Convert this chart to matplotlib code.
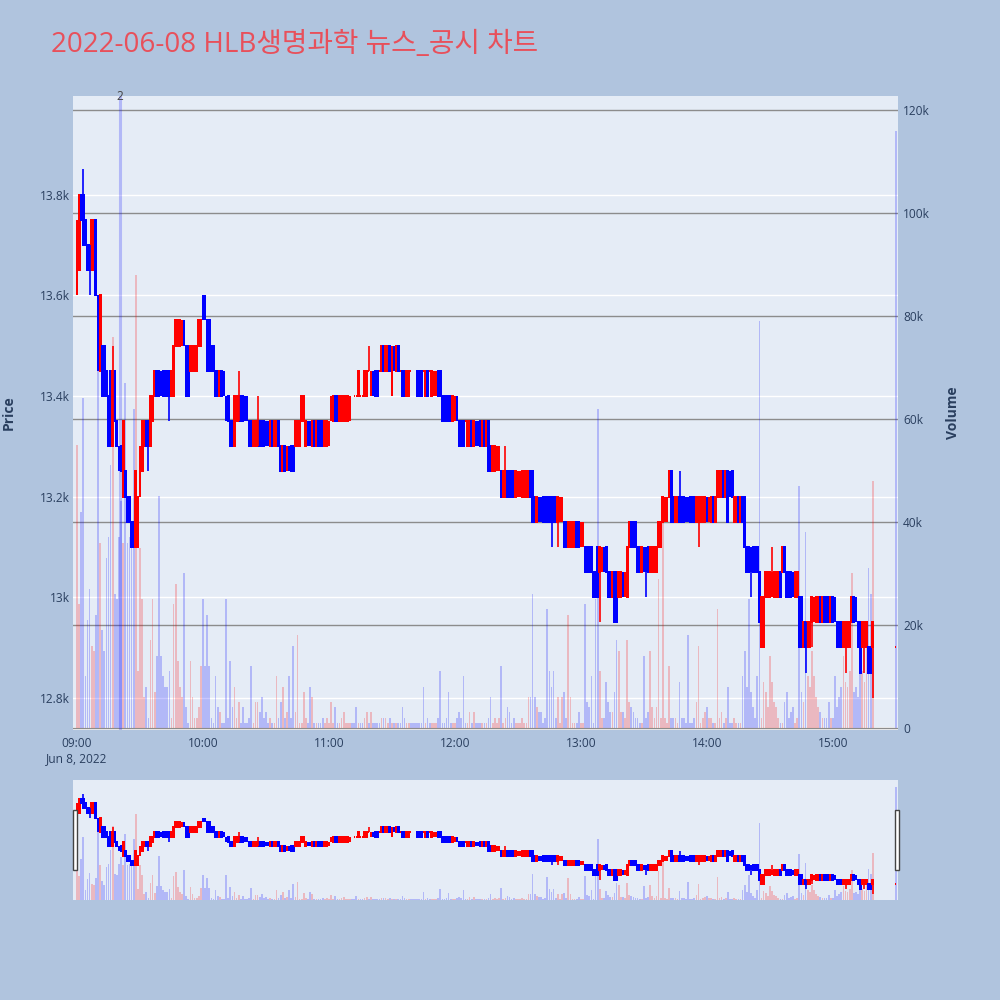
import matplotlib
matplotlib.use("Agg")
import matplotlib.pyplot as plt
from matplotlib.patches import Rectangle

plt.rcParams['font.family'] = ['Open Sans', 'Noto Sans CJK KR', 'DejaVu Sans']

title = "2022-06-08 HLB생명과학 뉴스_공시 차트"

# minute index since 09:00 (last one = 15:30 closing auction)
minutes = list(range(380)) + [390]

opens = [
    13600, 13650, 13800, 13800, 13750, 13700, 13700, 13650, 13650, 13750,
    13600, 13450, 13500, 13500, 13450, 13400, 13450, 13300, 13450, 13350,
    13300, 13300, 13200, 13250, 13200, 13200, 13150, 13150, 13100, 13100,
    13200, 13250, 13300, 13350, 13350, 13300, 13350, 13400, 13450, 13450,
    13450, 13450, 13450, 13450, 13450, 13400, 13400, 13500, 13500, 13500,
    13500, 13550, 13500, 13500, 13450, 13450, 13450, 13450, 13500, 13500,
    13600, 13600, 13550, 13550,
    13500, 13500, 13450, 13450, 13400, 13450, 13450, 13400, 13400, 13350,
    13350, 13300, 13350, 13350, 13400, 13400, 13400, 13400, 13350, 13350,
    13300, 13300, 13300, 13350, 13350, 13350, 13350, 13350, 13300, 13350,
    13300, 13300, 13350, 13300, 13250, 13300, 13250, 13300, 13300, 13300,
    13300, 13300, 13300, 13350, 13350, 13300, 13350, 13350, 13300, 13350,
    13300, 13350, 13350, 13350, 13300, 13300, 13300, 13350, 13350, 13400,
    13400, 13350, 13350, 13350, 13350, 13350,
    13350, 13400, 13400, 13400, 13400, 13400, 13400, 13400, 13400, 13450,
    13400, 13450, 13450, 13450, 13450, 13450, 13500, 13450, 13450, 13500,
    13400, 13500, 13450, 13500, 13450, 13450, 13450, 13400, 13400, 13450,
    13450, 13450, 13450, 13450, 13450, 13450, 13400, 13450, 13450, 13400,
    13400, 13400, 13450, 13450, 13400, 13400, 13400, 13400, 13400, 13350,
    13350, 13400, 13350, 13350, 13350, 13350, 13300, 13300, 13350, 13300,
    13350, 13350, 13350, 13300, 13350,
    13300, 13350, 13300, 13250, 13250, 13250, 13250, 13250, 13200, 13200,
    13250, 13250, 13250, 13250, 13200, 13200, 13200, 13200, 13200, 13200,
    13200, 13250, 13250, 13200, 13150, 13200, 13200, 13200, 13200, 13200,
    13200, 13200, 13200, 13200, 13150, 13150, 13150, 13150, 13150, 13100,
    13100, 13100, 13100, 13150, 13150, 13100, 13100, 13100, 13100, 13100,
    13100, 13050, 13050, 13100, 13050, 13050, 13100, 13100, 13050, 13050,
    13000, 13050, 13050, 13000, 13000, 13050, 13000,
    13000, 13100, 13150, 13150, 13150, 13100, 13100, 13050, 13100, 13100,
    13100, 13050, 13050, 13050, 13050, 13100, 13100, 13150, 13150, 13150,
    13200, 13250, 13200, 13150, 13150, 13200, 13200, 13200, 13200, 13200,
    13200, 13200, 13200, 13150, 13150, 13150, 13150, 13150, 13200, 13150,
    13150, 13200, 13150, 13200, 13200, 13200, 13250, 13200, 13250, 13250,
    13250, 13150, 13150, 13200, 13150, 13200, 13200, 13100, 13100, 13100,
    13100, 13100, 13100, 13050, 12900,
    12900, 13000, 13000, 13000, 13000, 13000, 13000, 13000, 13050, 13050,
    13100, 13050, 13050, 13050, 13050, 13000, 13000, 13000, 13000, 12900,
    12950, 12900, 12900, 12950, 12950, 12950, 12950, 13000, 12950, 13000,
    13000, 13000, 12950, 13000, 13000, 12950, 12950, 12950, 12900, 12900,
    12900, 12900, 12950, 13000, 13000, 12950, 12950, 12900, 12900, 12900,
    12900, 12900, 12900,
    12900,
]

closes = [
    13750, 13800, 13750, 13700, 13700, 13650, 13650, 13750, 13750, 13600,
    13450, 13600, 13400, 13400, 13400, 13300, 13300, 13450, 13350, 13300,
    13250, 13250, 13350, 13200, 13150, 13150, 13100, 13100, 13250, 13200,
    13300, 13350, 13350, 13300, 13300, 13400, 13400, 13450, 13400, 13400,
    13400, 13400, 13400, 13400, 13400, 13450, 13500, 13550, 13550, 13550,
    13550, 13500, 13400, 13400, 13500, 13500, 13500, 13500, 13550, 13550,
    13550, 13550, 13450, 13450,
    13450, 13450, 13400, 13400, 13450, 13400, 13400, 13350, 13350, 13300,
    13300, 13400, 13400, 13400, 13350, 13350, 13350, 13350, 13300, 13300,
    13350, 13350, 13350, 13300, 13300, 13300, 13300, 13300, 13350, 13300,
    13350, 13350, 13300, 13250, 13300, 13250, 13300, 13250, 13250, 13250,
    13350, 13350, 13350, 13400, 13400, 13350, 13300, 13300, 13350, 13300,
    13350, 13300, 13300, 13300, 13350, 13350, 13350, 13400, 13400, 13350,
    13350, 13400, 13400, 13400, 13400, 13400,
    13400, 13400, 13400, 13400, 13450, 13400, 13400, 13450, 13450, 13450,
    13450, 13400, 13400, 13400, 13450, 13500, 13450, 13500, 13500, 13450,
    13500, 13450, 13500, 13450, 13450, 13400, 13400, 13450, 13450, 13450,
    13450, 13450, 13400, 13400, 13400, 13450, 13450, 13400, 13450, 13450,
    13450, 13450, 13400, 13400, 13350, 13350, 13350, 13350, 13350, 13400,
    13400, 13350, 13300, 13300, 13300, 13350, 13350, 13350, 13300, 13350,
    13300, 13300, 13300, 13350, 13300,
    13350, 13250, 13250, 13300, 13300, 13300, 13300, 13200, 13250, 13250,
    13200, 13200, 13200, 13200, 13250, 13250, 13250, 13250, 13250, 13250,
    13250, 13200, 13150, 13150, 13200, 13150, 13150, 13150, 13150, 13150,
    13150, 13150, 13150, 13150, 13200, 13200, 13200, 13100, 13100, 13150,
    13150, 13150, 13150, 13100, 13100, 13150, 13150, 13050, 13050, 13050,
    13050, 13000, 13000, 13000, 13100, 13100, 13050, 13050, 13000, 13000,
    13050, 12950, 12950, 13050, 13050, 13000, 13050,
    13100, 13150, 13100, 13100, 13100, 13050, 13050, 13100, 13050, 13050,
    13050, 13100, 13100, 13100, 13100, 13150, 13150, 13200, 13200, 13200,
    13250, 13150, 13150, 13200, 13200, 13150, 13150, 13150, 13150, 13150,
    13150, 13150, 13150, 13200, 13200, 13200, 13200, 13200, 13150, 13200,
    13200, 13150, 13200, 13250, 13250, 13250, 13200, 13250, 13150, 13200,
    13200, 13200, 13200, 13150, 13200, 13150, 13100, 13050, 13050, 13050,
    13050, 13050, 13050, 12950, 13000,
    13000, 13050, 13050, 13050, 13050, 13050, 13050, 13050, 13000, 13100,
    13050, 13000, 13000, 13000, 13000, 13050, 13050, 12900, 12900, 12950,
    12900, 12950, 12950, 13000, 13000, 13000, 13000, 12950, 13000, 12950,
    12950, 12950, 13000, 12950, 12950, 12900, 12900, 12900, 12950, 12950,
    12950, 12950, 13000, 12950, 12950, 12900, 12850, 12950, 12950, 12950,
    12850, 12850, 12950,
    12900,
]

# wicks that reach beyond the candle body (minute -> price)
wick_highs = {3: 13850, 17: 13500, 77: 13450, 86: 13400, 139: 13500, 204: 13300,
              287: 13250, 331: 13100}
wick_lows = {6: 13600, 34: 13250, 44: 13350, 226: 13100, 229: 13100, 249: 12950,
             271: 13000, 296: 13100, 321: 13000, 347: 12850, 350: 12900, 366: 12850,
             375: 12850, 379: 12800}

# volume in thousands of shares
volumes_k = [
    55, 24, 42, 64, 10, 21, 27, 16, 15, 22, 72, 36, 19, 15, 33, 37, 51, 76, 26, 25,
    37, 44, 36, 67, 36, 37, 36, 62, 88, 11, 35, 25, 6, 8, 2, 17, 25, 7, 14, 45,
    14, 10, 8, 8, 11, 2, 24, 28, 13, 8, 6, 30, 4, 1, 13, 6, 2, 2, 4, 12,
    25, 12, 22, 12,
    2, 1, 10, 4, 3, 1, 1, 25, 2, 13, 4, 8, 2, 5, 1, 4, 1, 1, 2, 12,
    1, 5, 5, 3, 6, 2, 3, 1, 2, 1, 1, 10, 2, 5, 8, 2, 3, 10, 2, 16,
    3, 18, 1, 1, 7, 2, 1, 8, 6, 1, 1, 1, 1, 2, 1, 2, 1, 5, 1, 4,
    1, 1, 2, 3, 1, 1,
    1, 1, 1, 4, 1, 1, 1, 2, 3, 1, 3, 1, 1, 1, 1, 2, 2, 2, 1, 2,
    1, 1, 1, 1, 1, 4, 2, 1, 1, 1, 1, 1, 1, 1, 1, 8, 1, 2, 1, 1,
    1, 1, 2, 11, 1, 1, 2, 7, 1, 1, 1, 2, 3, 2, 10, 1, 1, 3, 1, 3,
    1, 1, 1, 1, 1,
    1, 2, 6, 1, 2, 1, 2, 12, 1, 2, 4, 3, 1, 2, 1, 1, 1, 2, 1, 1,
    6, 6, 26, 6, 4, 3, 3, 1, 2, 23, 11, 8, 11, 2, 6, 1, 6, 7, 2, 22,
    6, 1, 1, 1, 3, 1, 1, 24, 5, 4, 10, 1, 25, 62, 11, 2, 2, 9, 5, 3,
    3, 7, 17, 15, 3, 3, 2,
    17, 5, 4, 3, 2, 2, 1, 1, 14, 2, 3, 15, 4, 2, 4, 29, 2, 41, 2, 1,
    12, 2, 2, 2, 1, 9, 2, 2, 1, 18, 1, 1, 2, 5, 16, 1, 2, 3, 4, 2,
    2, 1, 1, 23, 2, 3, 1, 2, 8, 1, 1, 2, 1, 1, 1, 10, 15, 8, 25, 7,
    4, 2, 10, 79, 2,
    9, 7, 4, 14, 9, 5, 4, 2, 1, 1, 5, 7, 2, 3, 4, 1, 2, 47, 7, 5,
    38, 10, 8, 15, 10, 6, 4, 3, 2, 2, 2, 5, 2, 2, 10, 4, 6, 8, 14, 9,
    8, 11, 30, 7, 8, 6, 13, 11, 9, 17, 31, 26, 48,
    116,
]

news_minutes = [20.5]
news_labels = ["2"]

price_ticks = [12800, 13000, 13200, 13400, 13600, 13800]
price_tick_labels = ["12.8k", "13k", "13.2k", "13.4k", "13.6k", "13.8k"]
volume_ticks = [0, 20000, 40000, 60000, 80000, 100000, 120000]
volume_tick_labels = ["0", "20k", "40k", "60k", "80k", "100k", "120k"]
time_ticks = [0, 60, 120, 180, 240, 300, 360]
time_labels = ["09:00\nJun 8, 2022", "10:00", "11:00", "12:00", "13:00", "14:00", "15:00"]

highs = [max(o, c, wick_highs.get(m, o)) for m, o, c in zip(minutes, opens, closes)]
lows = [min(o, c, wick_lows.get(m, o)) for m, o, c in zip(minutes, opens, closes)]
volumes = [v * 1000 for v in volumes_k]

UP = "#ff0000"
DOWN = "#0000ff"
TXT = "#2a3f5f"
PLOT_BG = "#E5ECF6"

XLIM = (-1.9, 391.0)
PRICE_LIM = (12736, 13996)
VOL_LIM = (-400, 122700)

fig = plt.figure(figsize=(10, 10), dpi=100)
fig.patch.set_facecolor("#B0C4DE")


def panel(rect, main):
    axp = fig.add_axes(rect)
    axp.set_facecolor(PLOT_BG)
    axp.set_xlim(*XLIM)
    axp.set_ylim(*PRICE_LIM)
    for s in axp.spines.values():
        s.set_visible(False)
    axv = axp.twinx()
    axv.set_ylim(*VOL_LIM)
    for s in axv.spines.values():
        s.set_visible(False)
    axc = fig.add_axes(rect)
    axc.set_xlim(*XLIM)
    axc.set_ylim(*PRICE_LIM)
    axc.set_axis_off()
    axc.patch.set_visible(False)

    if main:
        axp.set_yticks(price_ticks)
        axp.set_yticklabels(price_tick_labels)
        axp.yaxis.grid(True, color="white", lw=1)
        axp.set_axisbelow(True)
        axp.tick_params(axis="y", length=0, pad=2.2, labelsize=8.6, labelcolor=TXT)
        axp.set_xticks(time_ticks)
        axp.set_xticklabels(time_labels)
        axp.tick_params(axis="x", length=0, pad=5, labelsize=8.6, labelcolor=TXT)
        axv.set_yticks(volume_ticks)
        axv.set_yticklabels(volume_tick_labels)
        axv.yaxis.grid(True, color="#8c8c8c", lw=1)
        axv.set_axisbelow(True)
        axv.tick_params(axis="y", length=0, pad=3.6, labelsize=8.6, labelcolor=TXT)
        axv.axhline(0, color="white", lw=2, zorder=0.5)
        for nm in news_minutes:
            axv.axvline(nm, color=DOWN, alpha=0.22, lw=2.2, zorder=1)
    else:
        axp.set_xticks([])
        axp.set_yticks([])
        axv.set_yticks([])

    vcols = [UP if c > o else DOWN for o, c in zip(opens, closes)]
    axv.bar(minutes, volumes, width=0.8, color=vcols, alpha=0.22, linewidth=0, zorder=2)

    for m, o, c, h, l in zip(minutes, opens, closes, highs, lows):
        col = UP if c >= o else DOWN
        if h > max(o, c) or l < min(o, c):
            axc.vlines(m, l, h, color=col, lw=1.2)
        axc.add_patch(Rectangle((m - 0.2, min(o, c)), 0.4, abs(c - o),
                                facecolor=col, edgecolor=col, lw=1.44))
    return axp, axv, axc


W, H = 1000.0, 1000.0
main_rect = [73 / W, 1 - 730 / H, 825 / W, 634 / H]
slider_rect = [73 / W, 1 - 900 / H, 825 / W, 120 / H]

axp, axv, axc = panel(main_rect, True)
sp, sv, sc = panel(slider_rect, False)

# news annotation label
for nm, lab in zip(news_minutes, news_labels):
    axc.annotate(lab, xy=(nm, 1.0), xycoords=("data", "axes fraction"),
                 ha="center", va="center", fontsize=8.6, color="#444444",
                 annotation_clip=False)

# range slider grab handles
for xh in (73, 895):
    fig.add_artist(Rectangle((xh / W, 1 - 870 / H), 4 / W, 60 / H,
                             transform=fig.transFigure, facecolor="white",
                             edgecolor="#444444", lw=1))

fig.text(51 / W, 1 - 52 / H, title, fontsize=20, color="#E8505B",
         ha="left", va="baseline")
fig.text(9 / W, 1 - 413 / H, "Price", rotation=90, fontsize=10, fontweight="bold",
         color=TXT, ha="center", va="center")
fig.text(953 / W, 1 - 413 / H, "Volume", rotation=90, fontsize=10, fontweight="bold",
         color=TXT, ha="center", va="center")

fig.savefig("out.png", dpi=100, facecolor=fig.get_facecolor())
